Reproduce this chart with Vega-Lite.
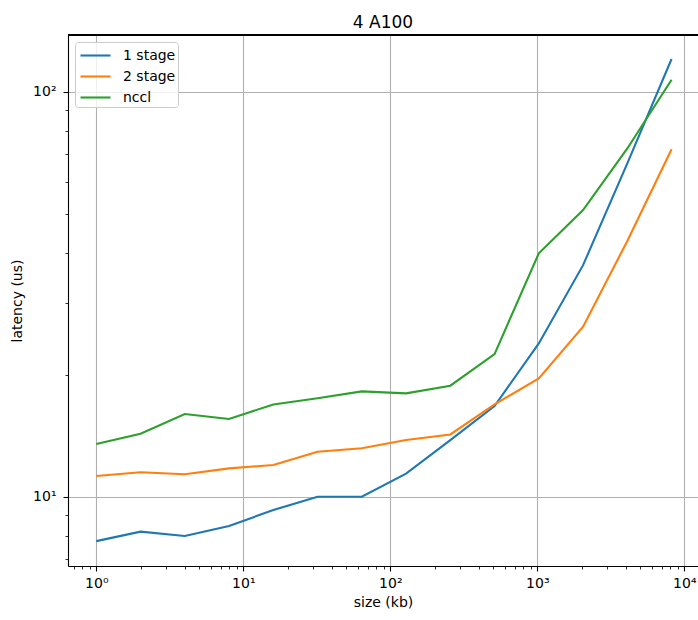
{
  "$schema": "https://vega.github.io/schema/vega-lite/v6.json",
  "autosize": {"type": "none"},
  "padding": {"left": 68, "top": 35, "right": 0, "bottom": 54},
  "width": 630,
  "height": 531,
  "background": "white",
  "title": {"text": "4 A100", "fontSize": 17, "font": "DejaVu Sans", "fontWeight": "normal", "baseline": "alphabetic", "offset": 8, "dy": 19, "color": "black"},
  "config": {"view": {"stroke": null}, "font": "DejaVu Sans"},
  "data": {"values": [
    {"size": 1, "latency": 7.77, "series": "1 stage"},
    {"size": 2, "latency": 8.2, "series": "1 stage"},
    {"size": 4, "latency": 8.0, "series": "1 stage"},
    {"size": 8, "latency": 8.47, "series": "1 stage"},
    {"size": 16, "latency": 9.27, "series": "1 stage"},
    {"size": 32, "latency": 10.0, "series": "1 stage"},
    {"size": 64, "latency": 10.0, "series": "1 stage"},
    {"size": 128, "latency": 11.4, "series": "1 stage"},
    {"size": 256, "latency": 13.8, "series": "1 stage"},
    {"size": 512, "latency": 16.75, "series": "1 stage"},
    {"size": 1024, "latency": 23.9, "series": "1 stage"},
    {"size": 2048, "latency": 37.3, "series": "1 stage"},
    {"size": 4096, "latency": 66.5, "series": "1 stage"},
    {"size": 8192, "latency": 120.4, "series": "1 stage"},
    {"size": 1, "latency": 11.25, "series": "2 stage"},
    {"size": 2, "latency": 11.49, "series": "2 stage"},
    {"size": 4, "latency": 11.36, "series": "2 stage"},
    {"size": 8, "latency": 11.75, "series": "2 stage"},
    {"size": 16, "latency": 11.98, "series": "2 stage"},
    {"size": 32, "latency": 12.91, "series": "2 stage"},
    {"size": 64, "latency": 13.17, "series": "2 stage"},
    {"size": 128, "latency": 13.8, "series": "2 stage"},
    {"size": 256, "latency": 14.25, "series": "2 stage"},
    {"size": 512, "latency": 16.9, "series": "2 stage"},
    {"size": 1024, "latency": 19.6, "series": "2 stage"},
    {"size": 2048, "latency": 26.3, "series": "2 stage"},
    {"size": 4096, "latency": 42.8, "series": "2 stage"},
    {"size": 8192, "latency": 72.1, "series": "2 stage"},
    {"size": 1, "latency": 13.5, "series": "nccl"},
    {"size": 2, "latency": 14.3, "series": "nccl"},
    {"size": 4, "latency": 16.0, "series": "nccl"},
    {"size": 8, "latency": 15.56, "series": "nccl"},
    {"size": 16, "latency": 16.9, "series": "nccl"},
    {"size": 32, "latency": 17.5, "series": "nccl"},
    {"size": 64, "latency": 18.2, "series": "nccl"},
    {"size": 128, "latency": 18.0, "series": "nccl"},
    {"size": 256, "latency": 18.8, "series": "nccl"},
    {"size": 512, "latency": 22.5, "series": "nccl"},
    {"size": 1024, "latency": 39.9, "series": "nccl"},
    {"size": 2048, "latency": 51.0, "series": "nccl"},
    {"size": 4096, "latency": 72.4, "series": "nccl"},
    {"size": 8192, "latency": 107, "series": "nccl"}
  ]},
  "layer": [
    {
      "mark": {"type": "line", "strokeWidth": 2.1, "clip": true},
      "encoding": {
        "x": {"field": "size", "type": "quantitative", "title": "size (kb)",
          "scale": {"type": "log", "domain": [0.642, 12393], "nice": false, "zero": false},
          "axis": {"orient": "bottom", "values": [1, 10, 100, 1000, 10000],
            "labelExpr": "'10' + ['⁰','¹','²','³','⁴'][round(log(datum.value)/LN10)]",
            "grid": true, "gridColor": "#b0b0b0", "gridWidth": 1.1,
            "domainColor": "black", "domainWidth": 1.1, "tickColor": "black", "tickWidth": 1.1, "tickSize": 5,
            "labelFontSize": 14, "labelColor": "black", "labelFont": "DejaVu Sans", "labelPadding": 5,
            "labelFlush": false, "labelOverlap": false,
            "titleFontSize": 14, "titleFont": "DejaVu Sans", "titleFontWeight": "normal", "titleColor": "black", "titlePadding": 5}},
        "y": {"field": "latency", "type": "quantitative", "title": "latency (us)",
          "scale": {"type": "log", "domain": [6.745, 138], "nice": false, "zero": false},
          "axis": {"orient": "left", "values": [10, 100],
            "labelExpr": "'10' + ['⁰','¹','²','³','⁴'][round(log(datum.value)/LN10)]",
            "grid": true, "gridColor": "#b0b0b0", "gridWidth": 1.1,
            "domainColor": "black", "domainWidth": 1.1, "tickColor": "black", "tickWidth": 1.1, "tickSize": 5,
            "labelFontSize": 14, "labelColor": "black", "labelFont": "DejaVu Sans", "labelPadding": 7,
            "labelFlush": false, "labelOverlap": false,
            "titleFontSize": 14, "titleFont": "DejaVu Sans", "titleFontWeight": "normal", "titleColor": "black", "titlePadding": 8}},
        "color": {"field": "series", "type": "nominal",
          "scale": {"domain": ["1 stage", "2 stage", "nccl"], "range": ["#1f77b4", "#ff7f0e", "#2ca02c"]},
          "legend": {"orient": "none", "legendX": 7, "legendY": 7, "title": null,
            "symbolType": "M-1.5,0H1.5", "symbolSize": 400, "symbolStrokeWidth": 2.1, "symbolOffset": 7,
            "labelFontSize": 14, "labelFont": "DejaVu Sans", "labelColor": "black", "labelOffset": 16,
            "rowPadding": 2,
            "fillColor": "rgba(255,255,255,0.8)", "strokeColor": "#cccccc", "cornerRadius": 3, "padding": 2}}
      }
    },
    {
      "mark": {"type": "line", "opacity": 0},
      "encoding": {
        "x": {"field": "size", "type": "quantitative",
          "axis": {"orient": "bottom", "title": null, "labels": false, "grid": false, "domain": false,
            "values": [0.7, 0.8, 0.9, 2, 3, 4, 5, 6, 7, 8, 9, 20, 30, 40, 50, 60, 70, 80, 90, 200, 300, 400, 500, 600, 700, 800, 900, 2000, 3000, 4000, 5000, 6000, 7000, 8000, 9000],
            "tickSize": 3, "tickWidth": 0.8, "tickColor": "black"}},
        "y": {"field": "latency", "type": "quantitative",
          "axis": {"orient": "left", "title": null, "labels": false, "grid": false, "domain": false,
            "values": [7, 8, 9, 20, 30, 40, 50, 60, 70, 80, 90],
            "tickSize": 3, "tickWidth": 0.8, "tickColor": "black"}},
        "detail": {"field": "series"}
      }
    },
    {
      "mark": {"type": "rule", "color": "black", "strokeWidth": 1.1},
      "encoding": {"y": {"datum": 138, "type": "quantitative", "axis": null}}
    }
  ],
  "resolve": {"axis": {"x": "independent", "y": "independent"}}
}
